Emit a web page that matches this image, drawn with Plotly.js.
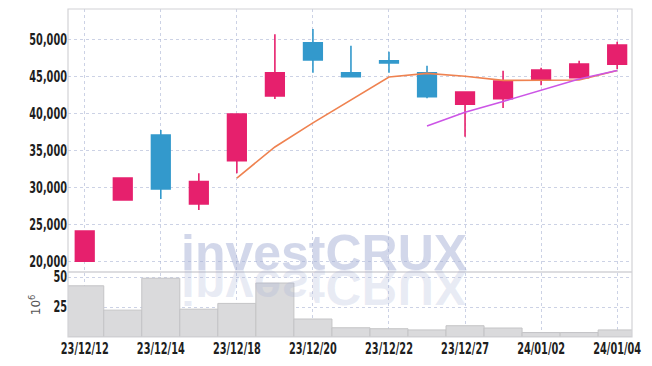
<!DOCTYPE html>
<html>
<head>
<meta charset="utf-8">
<script src="https://cdn.plot.ly/plotly-3.0.1.min.js"></script>
<style>
  html, body { margin: 0; padding: 0; background: #fff; }
  #chart { width: 652px; height: 366px; }
</style>
</head>
<body>
<div id="chart"></div>
<script>
// ---- data ----
const dates = ["23/12/12","23/12/13","23/12/14","23/12/15","23/12/18","23/12/19","23/12/20",
               "23/12/21","23/12/22","23/12/26","23/12/27","23/12/28","24/01/02","24/01/03","24/01/04"];
const openP  = [20000, 28300, 37070, 27740, 33600, 42340, 49540, 45490, 47100, 45490, 41220, 41970, 44500, 44810, 46620];
const highP  = [24100, 31250, 37740, 31890, 39900, 50680, 51390, 49140, 48320, 46430, 42880, 45760, 46160, 47110, 49680];
const lowP   = [19950, 28300, 28420, 26930, 31900, 41930, 45490, 44950, 45490, 42030, 36840, 40720, 43780, 44810, 45990];
const closeP = [24100, 31250, 29770, 30760, 39900, 45490, 47200, 44950, 46800, 42240, 42880, 44360, 45850, 46660, 49230];
const ma5    = [null, null, null, null, 31250, 35450, 38700, 41750, 44900, 45400, 45000, 44450, 44500, 44500, 45780];
const ma10   = [null, null, null, null, null, null, null, null, null, 38300, 40150, 41600, 43100, 44630, 45780];
const volume = [42.7, 22.4, 49.0, 23.2, 28.0, 45.0, 15.0, 7.7, 6.9, 5.9, 9.4, 7.5, 3.7, 3.7, 5.9]; // x 10^6
const tickLabels = ["23/12/12","23/12/14","23/12/18","23/12/20","23/12/22","23/12/27","24/01/02","24/01/04"];
const priceTicks = [20000, 25000, 30000, 35000, 40000, 45000, 50000];
const volumeTicks = [25, 50];
const watermark = "investCRUX";

const tickFont = {family: "DejaVu Sans Condensed, DejaVu Sans, sans-serif", size: 15.5, color: "#1e1e1e", weight: 700};
const gridCol = "rgba(170,180,212,0.6)";

const data = [
  {
    type: "bar", x: dates, y: volume, xaxis: "x", yaxis: "y2",
    marker: {color: "#dadadc", line: {color: "#c4c4c6", width: 1}},
    hoverinfo: "skip"
  },
  {
    type: "candlestick", x: dates, open: openP, high: highP, low: lowP, close: closeP,
    xaxis: "x", yaxis: "y",
    increasing: {line: {color: "#e6206d", width: 1.6}, fillcolor: "#e6206d"},
    decreasing: {line: {color: "#3399cc", width: 1.6}, fillcolor: "#3399cc"},
    whiskerwidth: 0
  },
  {
    type: "scatter", mode: "lines", x: dates, y: ma5, xaxis: "x", yaxis: "y",
    line: {color: "#ef8250", width: 1.6}, connectgaps: false
  },
  {
    type: "scatter", mode: "lines", x: dates, y: ma10, xaxis: "x", yaxis: "y",
    line: {color: "#cc55e6", width: 1.6}, connectgaps: false
  }
];

const layout = {
  width: 652, height: 366,
  margin: {l: 68, r: 20, t: 9, b: 29},
  paper_bgcolor: "#fff", plot_bgcolor: "#fff",
  showlegend: false,
  bargap: 0,
  xaxis: {
    type: "category", range: [-0.44, 14.39], anchor: "y2",
    tickvals: tickLabels, ticktext: tickLabels,
    showgrid: true, gridcolor: gridCol, griddash: "dot", gridwidth: 1,
    zeroline: false, showline: false, ticks: "",
    tickfont: tickFont, tickangle: 0,
    rangeslider: {visible: false}
  },
  yaxis: {
    domain: [0.198, 1], range: [18546, 54095],
    tickvals: priceTicks, tickformat: ",d",
    showgrid: true, gridcolor: gridCol, griddash: "dot", gridwidth: 1,
    zeroline: false, showline: false, ticks: "",
    tickfont: tickFont
  },
  yaxis2: {
    domain: [0, 0.196], range: [0, 53.6],
    tickvals: volumeTicks,
    showgrid: true, gridcolor: gridCol, griddash: "dot", gridwidth: 1,
    zeroline: false, showline: false, ticks: "",
    tickfont: tickFont,
    title: {text: "10<sup>6</sup>", font: {family: "DejaVu Sans, sans-serif", size: 12, color: "#555"}, standoff: 4}
  },
  shapes: [
    {type: "rect", xref: "paper", yref: "paper", x0: 0, x1: 1, y0: 0, y1: 1,
     line: {color: "#d2d2d6", width: 1.2}, layer: "above"},
    {type: "line", xref: "paper", yref: "paper", x0: 0, x1: 1, y0: 0.198, y1: 0.198,
     line: {color: "#d2d2d6", width: 1.5}, layer: "above"}
  ],
  annotations: [
    {text: "<b>" + watermark + "</b>", xref: "paper", yref: "paper", x: 0.454, y: 0.255,
     xanchor: "center", yanchor: "middle", showarrow: false,
     font: {family: "Liberation Sans, Arial, sans-serif", size: 50, color: "rgba(165,176,214,0.5)"}},
    {text: "<b>" + watermark + "</b>", xref: "paper", yref: "paper", x: 0.454, y: 0.152,
     xanchor: "center", yanchor: "middle", showarrow: false,
     font: {family: "Liberation Sans, Arial, sans-serif", size: 50, color: "rgba(165,176,214,0.25)"}}
  ]
};

Plotly.newPlot("chart", data, layout, {displayModeBar: false, staticPlot: true}).then(function (gd) {
  // narrow the tick labels, like the condensed face of the reference
  gd.querySelectorAll(".xtick text, .ytick text, .y2tick text").forEach(function (t) {
    const len = t.getComputedTextLength();
    if (len > 0) {
      t.setAttribute("textLength", (len * 0.7).toFixed(1));
      t.setAttribute("lengthAdjust", "spacingAndGlyphs");
    }
  });
  // mirrored watermark reflection
  const texts = gd.querySelectorAll(".annotation-text");
  if (texts.length > 1) {
    const t = texts[1];
    t.style.transformBox = "fill-box";
    t.style.transformOrigin = "center";
    t.style.transform = "scaleY(-1)";
  }
});
</script>
</body>
</html>
